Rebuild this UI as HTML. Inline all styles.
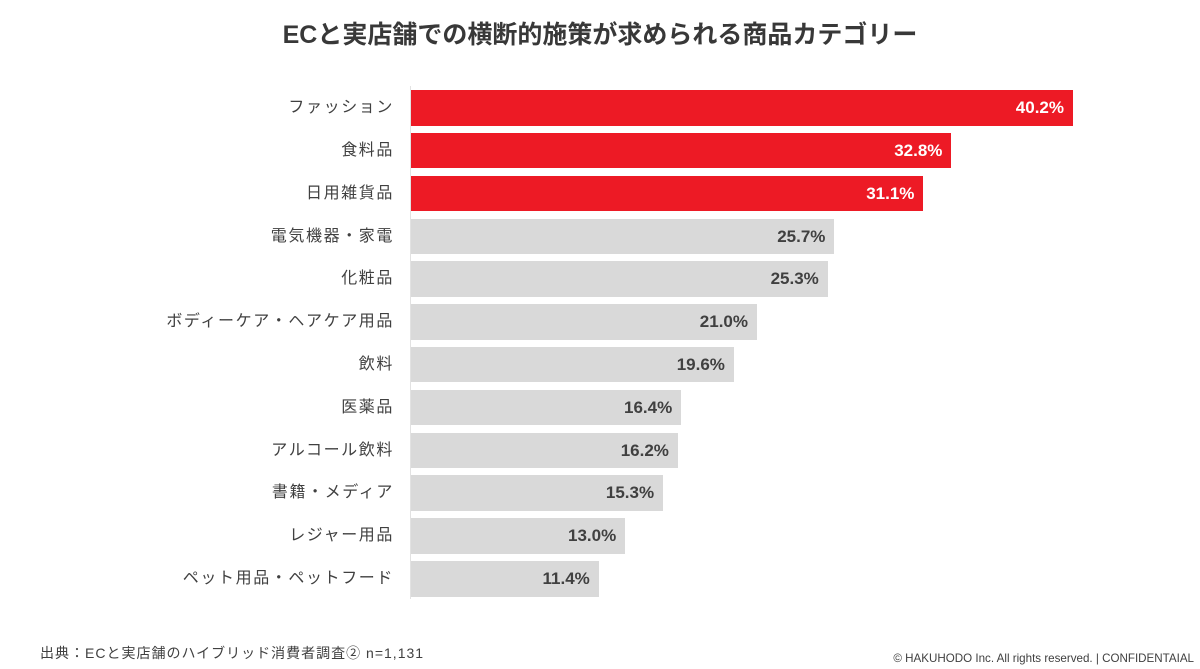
<!DOCTYPE html>
<html><head><meta charset="utf-8">
<style>
html,body{margin:0;padding:0;background:#fff;}
#c{position:relative;width:1200px;height:669px;overflow:hidden;font-family:"Liberation Sans","Noto Sans CJK JP",sans-serif;}
.t{position:absolute;left:0;width:1200px;top:18px;text-align:center;font-size:25px;font-weight:bold;color:#383838;line-height:34px;}
.lab{position:absolute;right:806px;width:300px;text-align:right;font-size:16px;color:#404040;height:36px;line-height:36px;letter-spacing:1.6px;white-space:nowrap;}
.bar{position:absolute;left:411px;height:35.5px;}
.r{background:#ED1A25;}
.g{background:#D9D9D9;}
.v{position:absolute;right:9px;top:0;line-height:35.5px;font-size:17px;font-weight:bold;}
.r .v{color:#fff;}
.g .v{color:#404040;}
.ax{position:absolute;left:410px;top:86px;width:1px;height:513px;background:#e2e2e2;}
.f1{position:absolute;left:40px;top:644px;font-size:14px;color:#404040;letter-spacing:1px;line-height:18px;white-space:nowrap;}
.f2{position:absolute;right:6px;top:652px;font-size:11.6px;color:#404040;line-height:14px;white-space:nowrap;}
</style></head><body>
<div id="c">
<div class="t">ECと実店舗での横断的施策が求められる商品カテゴリー</div>
<div class="ax"></div>

<div class="lab" style="top:90px">ファッション</div>
<div class="bar r" style="top:90px;width:662px"><span class="v">40.2%</span></div>

<div class="lab" style="top:132.8px">食料品</div>
<div class="bar r" style="top:132.8px;width:540.4px"><span class="v">32.8%</span></div>

<div class="lab" style="top:175.6px">日用雑貨品</div>
<div class="bar r" style="top:175.6px;width:512.4px"><span class="v">31.1%</span></div>

<div class="lab" style="top:218.5px">電気機器・家電</div>
<div class="bar g" style="top:218.5px;width:423.4px"><span class="v">25.7%</span></div>

<div class="lab" style="top:261.3px">化粧品</div>
<div class="bar g" style="top:261.3px;width:416.8px"><span class="v">25.3%</span></div>

<div class="lab" style="top:304.1px">ボディーケア・ヘアケア用品</div>
<div class="bar g" style="top:304.1px;width:346px"><span class="v">21.0%</span></div>

<div class="lab" style="top:346.9px">飲料</div>
<div class="bar g" style="top:346.9px;width:322.9px"><span class="v">19.6%</span></div>

<div class="lab" style="top:389.7px">医薬品</div>
<div class="bar g" style="top:389.7px;width:270.2px"><span class="v">16.4%</span></div>

<div class="lab" style="top:432.6px">アルコール飲料</div>
<div class="bar g" style="top:432.6px;width:266.9px"><span class="v">16.2%</span></div>

<div class="lab" style="top:475.4px">書籍・メディア</div>
<div class="bar g" style="top:475.4px;width:252.1px"><span class="v">15.3%</span></div>

<div class="lab" style="top:518.2px">レジャー用品</div>
<div class="bar g" style="top:518.2px;width:214.2px"><span class="v">13.0%</span></div>

<div class="lab" style="top:561px">ペット用品・ペットフード</div>
<div class="bar g" style="top:561px;width:187.8px"><span class="v">11.4%</span></div>

<div class="f1">出典：ECと実店舗のハイブリッド消費者調査② n=1,131</div>
<div class="f2">© HAKUHODO Inc. All rights reserved. | CONFIDENTAIAL</div>
</div>
</body></html>
